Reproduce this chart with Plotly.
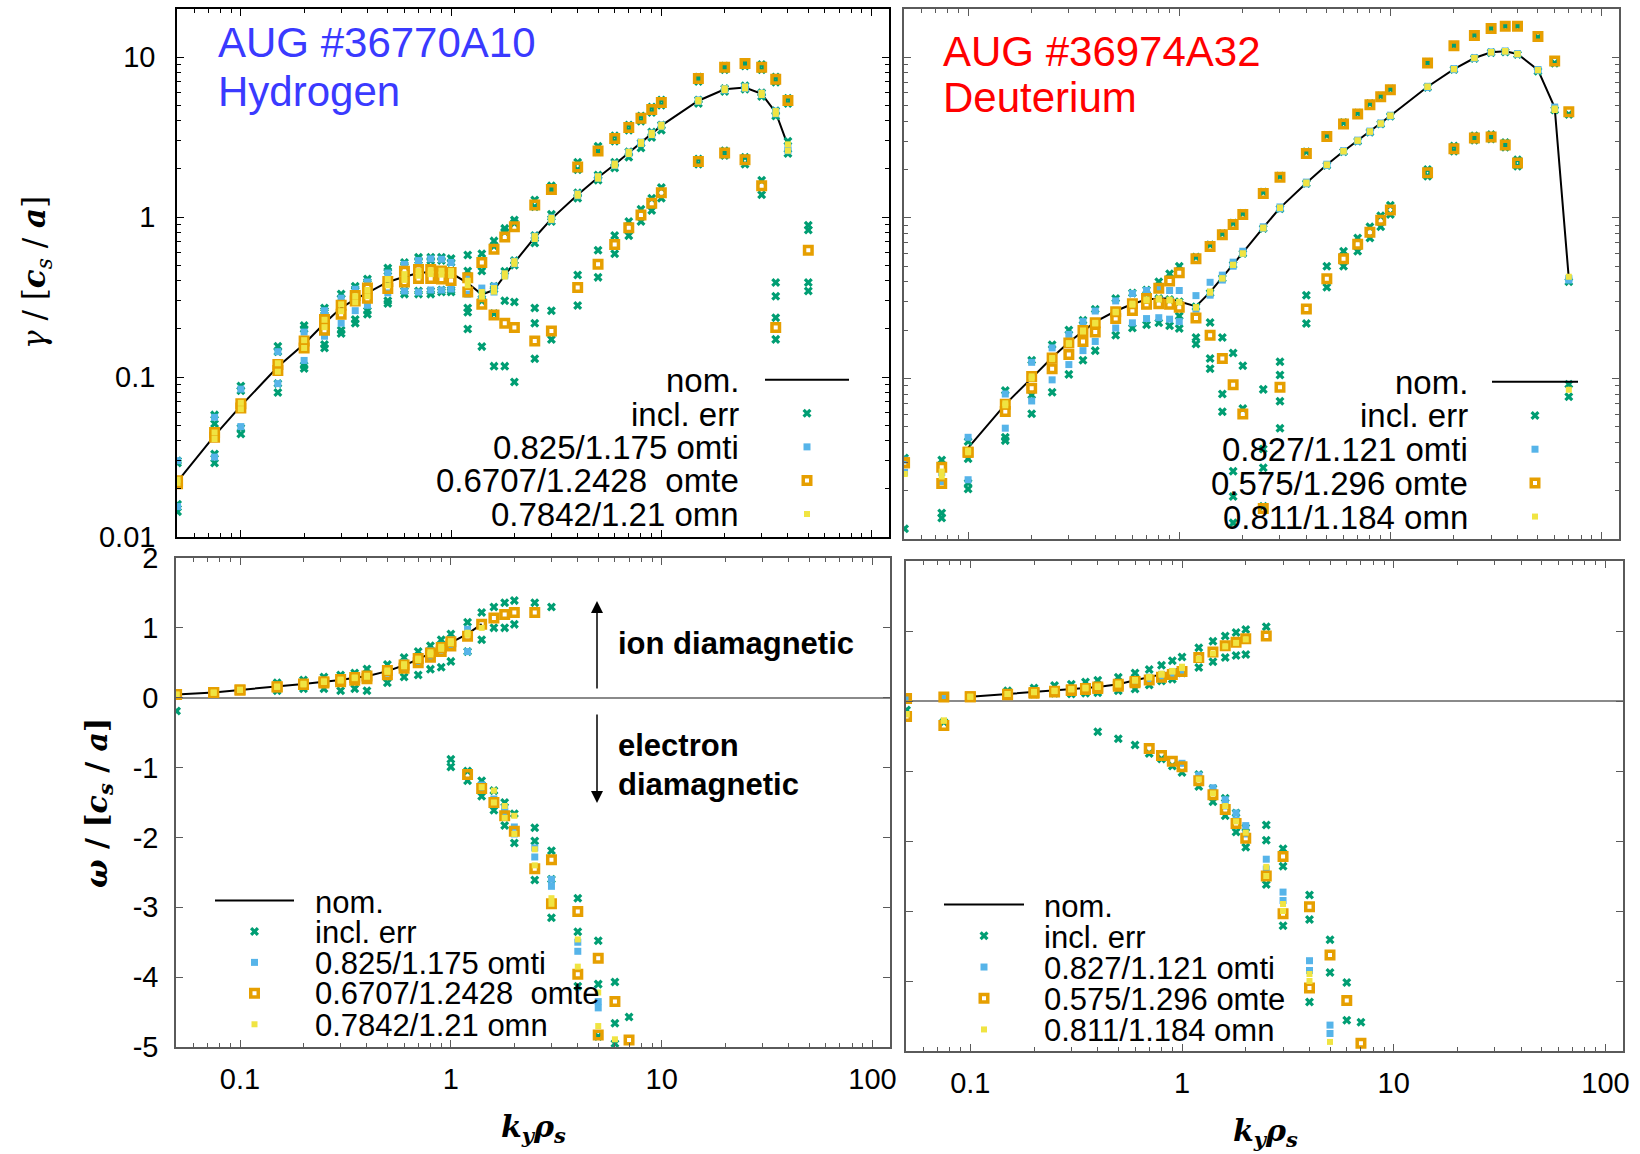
import math
import plotly.graph_objects as go

W, H = 1640, 1154

# ================= Hydrogen, AUG #36770A10 =================
k_H = [0.05, 0.075, 0.1, 0.15, 0.2, 0.25, 0.3, 0.35, 0.4, 0.5, 0.6, 0.7, 0.8, 0.9, 1.0,
       1.2, 1.4, 1.6, 1.8, 2.0, 2.5, 3.0, 4.0, 5.0, 6.0, 7.0, 8.0, 9.0, 10, 15, 20, 25, 30, 35, 40, 50]

gam_nom_H = [0.0223, 0.043, 0.066, 0.116, 0.161, 0.217, 0.271, 0.307, 0.336, 0.393, 0.424, 0.447, 0.453, 0.45, 0.447,
             0.387, 0.328, 0.351, 0.435, 0.52, 0.746, 0.975, 1.38, 1.77, 2.13, 2.52, 2.91, 3.31, 3.73, 5.34, 6.3, 6.46,
             5.89, 4.51, 2.8, None]
gam_omti_hi_H = [0.030, 0.056, 0.084, 0.144, 0.191, 0.26, 0.311, 0.354, 0.393, 0.447, 0.507, 0.535, 0.548, 0.545, 0.52,
                 0.42, 0.36, 0.37, 0.44, 0.53, 0.76, 0.99, 1.40, 1.79, 2.15, 2.55, 2.94, 3.35, 3.77, 5.40, 6.37, 6.55,
                 5.95, 4.6, 2.75, None]
gam_omti_lo_H = [0.0155, 0.0316, 0.049, 0.091, 0.127, 0.18, 0.217, 0.26, 0.281, 0.336, 0.345, 0.34, 0.35, 0.35, 0.355,
                 0.33, 0.31, 0.34, 0.43, 0.51, 0.735, 0.96, 1.36, 1.75, 2.1, 2.49, 2.88, 3.27, 3.68, 5.28, 6.22, 6.38,
                 5.82, 4.42, 2.6, None]
gam_omte_hi_H = [0.0225, 0.045, 0.068, 0.12, 0.168, 0.229, 0.281, 0.323, 0.36, 0.396, 0.458, 0.47, 0.47, 0.46, 0.45,
                 0.417, 0.52, 0.63, 0.75, 0.87, 1.19, 1.49, 2.06, 2.59, 3.1, 3.63, 4.15, 4.7, 5.21, 7.35, 8.66, 9.12,
                 8.66, 7.28, 5.35, 0.62]
gam_omte_lo_H = [0.0215, 0.042, 0.064, 0.11, 0.152, 0.196, 0.247, 0.299, 0.311, 0.358, 0.393, 0.413, 0.413, 0.41, 0.402,
                 0.34, 0.285, 0.244, 0.217, 0.204, 0.168, 0.194, 0.363, 0.507, 0.673, 0.857, 1.03, 1.22, 1.42, 2.23,
                 2.52, 2.28, 1.57, 0.204, None, None]
gam_omn_hi_H = [0.0228, 0.045, 0.069, 0.122, 0.17, 0.228, 0.285, 0.32, 0.35, 0.41, 0.44, 0.46, 0.465, 0.462, 0.46,
                0.40, 0.34, 0.36, 0.445, 0.53, 0.76, 0.99, 1.40, 1.80, 2.16, 2.56, 2.95, 3.36, 3.78, 5.4, 6.38, 6.55,
                5.98, 4.6, 2.85, None]
gam_omn_lo_H = [0.0218, 0.041, 0.063, 0.108, 0.152, 0.205, 0.258, 0.293, 0.32, 0.375, 0.405, 0.43, 0.44, 0.437, 0.434,
                0.375, 0.318, 0.342, 0.425, 0.51, 0.73, 0.96, 1.36, 1.74, 2.1, 2.48, 2.87, 3.26, 3.68, 5.28, 6.22, 6.38,
                5.8, 4.42, 2.6, None]
gam_err_H_1 = [0.030, 0.058, 0.088, 0.156, 0.21, 0.27, 0.33, 0.37, 0.41, 0.48, 0.52, 0.56, 0.56, 0.56, 0.55,
               0.58, 0.59, 0.71, 0.85, 0.96, 1.28, 1.57, 2.2, 2.77, 3.23, 3.77, 4.29, 4.87, 5.4, 7.5, 8.8, 9.26,
               9.0, 7.5, 5.54, 0.89]
gam_err_H_2 = [0.029, 0.051, 0.082, 0.144, 0.2, 0.26, 0.31, 0.354, 0.393, 0.458, 0.5, 0.535, 0.535, 0.535, 0.52,
               0.46, 0.46, 0.66, 0.81, 0.92, 1.16, 1.49, 1.98, 2.56, 2.98, 3.49, 3.97, 4.51, 5.0, 7.05, 8.35, 8.8,
               8.35, 6.98, 5.13, 0.83]
gam_err_H_3 = [None, None, None, None, None, None, None, None, None, None, None, None, None, None, None,
               None, 0.328, 0.37, 0.458, 0.535, 0.766, 1.04, 1.42, 1.83, 2.2, 2.56, 2.91, 3.4, 3.77, 5.4, 6.37, 6.63,
               5.98, 4.62, 2.98, 0.39]
gam_err_H_4 = [None, None, None, None, None, None, None, None, None, None, None, None, None, None, None,
               None, None, 0.354, None, 0.5, 0.69, 0.94, 1.31, 1.7, 2.03, 2.37, 2.7, 3.15, 3.49, 5.13, 6.1, 6.3,
               5.68, 4.29, 2.5, 0.345]
gam_err_H_5 = [0.016, 0.033, 0.048, 0.091, 0.118, 0.16, 0.196, 0.229, 0.26, 0.30, 0.345, 0.345, 0.345, 0.35, 0.35,
               0.27, 0.30, 0.25, 0.30, 0.295, 0.27, 0.26, 0.435, 0.62, 0.766, 0.94, 1.12, 1.31, 1.53, 2.31, 2.6, 2.37,
               1.7, 0.39, None, None]
gam_err_H_6 = [0.0144, 0.029, 0.044, 0.08, 0.113, 0.152, 0.187, 0.217, 0.247, 0.288, 0.33, 0.33, 0.33, 0.34, 0.34,
               0.2, 0.155, 0.117, 0.117, 0.093, 0.13, 0.172, 0.28, 0.42, 0.59, 0.766, 0.94, 1.1, 1.31, 2.14, 2.43, 2.14,
               1.38, 0.172, None, None]
gam_err_H_7 = [None, None, None, None, None, None, None, None, None, None, None, None, None, None, None,
               0.254, None, None, None, None, 0.217, None, None, None, None, None, None, None, None, None, None, None,
               None, 0.32, None, None]
gam_err_H_8 = [None, None, None, None, None, None, None, None, None, None, None, None, None, None, None,
               None, None, None, None, None, None, None, None, None, None, None, None, None, None, None, None, None,
               None, 0.235, None, None]

om_nom_H = [0.045, 0.073, 0.112, 0.157, 0.196, 0.23, 0.252, 0.286, 0.308, 0.381, 0.465, 0.549, 0.633, 0.717, 0.79,
            0.913, 1.053]
om_omti_hi_H = [0.045, 0.075, 0.115, 0.16, 0.2, 0.24, 0.27, 0.3, 0.33, 0.41, 0.5, 0.59, 0.67, 0.75, 0.83,
                0.98, -1.3, -1.52, -1.58, -1.95, -2.28, -2.7, -3.63, -4.44, None, None]
om_omti_lo_H = [0.045, 0.07, 0.105, 0.15, 0.185, 0.215, 0.235, 0.265, 0.285, 0.35, 0.43, 0.51, 0.59, 0.68, 0.75,
                0.66, -1.25, -1.45, -1.63, -1.85, -2.15, -2.6, -3.5, -4.35, None, None]
om_omte_hi_H = [0.045, 0.073, 0.112, 0.157, 0.196, 0.23, 0.26, 0.29, 0.31, 0.39, 0.47, 0.56, 0.64, 0.72, 0.80,
                -1.10, -1.30, -1.5, -1.69, -1.91, -2.45, -2.95, -3.96, -4.83, None, None]
om_omte_lo_H = [0.045, 0.073, 0.11, 0.155, 0.19, 0.21, 0.23, 0.25, 0.27, 0.33, 0.42, 0.5, 0.58, 0.66, 0.74,
                0.88, 1.05, 1.14, 1.19, 1.22, 1.22, -2.32, -3.06, -3.73, -4.35, -4.9]
om_omn_hi_H = [0.045, 0.075, 0.115, 0.16, 0.2, 0.235, 0.26, 0.29, 0.315, 0.39, 0.48, 0.56, 0.65, 0.73, 0.81,
               0.93, 1.0, -1.33, -1.55, -1.69, -2.17, -2.87, -3.46, -4.22, -4.89, None]
om_omn_lo_H = [0.045, 0.07, 0.11, 0.155, 0.19, 0.225, 0.245, 0.28, 0.3, 0.37, 0.45, 0.54, 0.62, 0.70, 0.78,
               0.90, -1.28, -1.5, -1.72, -1.95, -2.4, -2.95, -3.85, -4.7, None, None]
om_err_H_1 = [0.045, 0.075, 0.115, 0.213, 0.252, 0.297, 0.325, 0.353, 0.41, 0.476, 0.577, 0.66, 0.745, 0.83, 0.913,
              1.08, 1.22, 1.30, 1.36, 1.39, 1.36, 1.30]
om_err_H_2 = [-0.19, 0.07, 0.105, 0.1, 0.129, 0.13, 0.1, 0.13, 0.1, 0.213, 0.297, 0.325, 0.409, 0.437, 0.52,
              0.66, 0.83, 1.0, 1.0, 1.05]
om_err_H_3 = [None, None, None, None, None, None, None, None, None, None, None, None, None, None, -0.88,
              -1.05, -1.19, -1.33, -1.5, -1.66, -1.86, -2.19, -2.87, -3.48, -4.07, -4.57]
om_err_H_4 = [None, None, None, None, None, None, None, None, None, None, None, None, None, None, -0.99,
              -1.19, -1.41, -1.61, -1.83, -2.08, -2.61, -3.15, -4.13, -4.85, -4.66, None]
om_err_H_5 = [None, None, None, None, None, None, None, None, None, None, None, None, None, None, None,
              None, None, None, None, None, -2.05, -2.6, -3.35, -4.1, -4.95, None]

# ================= Deuterium, AUG #36974A32 =================
k_D = [0.05, 0.075, 0.1, 0.15, 0.2, 0.25, 0.3, 0.35, 0.4, 0.5, 0.6, 0.7, 0.8, 0.9, 1.0,
       1.2, 1.4, 1.6, 1.8, 2.0, 2.5, 3.0, 4.0, 5.0, 6.0, 7.0, 8.0, 9.0, 10, 15, 20, 25, 30, 35, 40, 50, 60, 70]

gam_nom_D = [None, None, 0.0369, 0.069, 0.1005, 0.135, 0.168, 0.196, 0.225, 0.263, 0.291, 0.31, 0.315, 0.315, 0.303,
             0.281, 0.345, 0.424, 0.513, 0.607, 0.87, 1.155, 1.65, 2.14, 2.6, 3.03, 3.45, 3.87, 4.33, 6.56, 8.44, 9.9,
             10.75, 10.9, 10.5, 8.35, 4.87, 0.418]
gam_omti_hi_D = [0.031, 0.0259, 0.043, 0.08, 0.126, 0.155, 0.188, 0.226, 0.263, 0.304, 0.338, 0.353, 0.36, 0.353, 0.353,
                 0.328, 0.397, 0.44, 0.53, 0.62, 0.88, 1.17, 1.67, 2.16, 2.62, 3.05, 3.47, 3.9, 4.36, 6.6, 8.5, 9.95,
                 10.8, 10.95, 10.55, 8.4, 4.9, 0.42]
gam_omti_lo_D = [0.026, 0.0228, 0.0234, 0.049, 0.0724, 0.098, 0.122, 0.149, 0.17, 0.206, 0.222, 0.236, 0.239, 0.234,
                 0.226, 0.27, 0.33, 0.41, 0.50, 0.60, 0.86, 1.14, 1.63, 2.12, 2.58, 3.0, 3.42, 3.84, 4.3, 6.5, 8.38,
                 9.85, 10.7, 10.85, 10.45, 8.3, 4.8, 0.41]
gam_omte_hi_D = [0.0299, 0.028, 0.0347, 0.069, 0.103, 0.134, 0.166, 0.199, 0.222, 0.26, 0.292, 0.315, 0.364, 0.404,
                 0.455, 0.557, 0.663, 0.785, 0.908, 1.05, 1.42, 1.79, 2.52, 3.21, 3.85, 4.44, 5.07, 5.68, 6.29, 9.21,
                 11.8, 13.7, 15.1, 15.6, 15.6, 13.5, 9.5, 4.58]
gam_omte_lo_D = [0.0299, 0.0222, 0.0347, 0.0622, 0.087, 0.115, 0.141, 0.17, 0.195, 0.236, 0.265, 0.29, 0.292, 0.29,
                 0.278, 0.238, 0.186, 0.133, 0.0915, 0.06, 0.0155, 0.088, 0.271, 0.418, 0.557, 0.684, 0.815, 0.965,
                 1.12, 1.91, 2.7, 3.15, 3.19, 2.84, 2.2, None, None, None]
gam_omn_hi_D = [0.0254, 0.0263, 0.0355, 0.07, 0.103, 0.134, 0.166, 0.199, 0.222, 0.26, 0.292, 0.31, 0.315, 0.306,
                0.30, 0.276, 0.348, 0.42, 0.51, 0.60, 0.87, 1.16, 1.66, 2.15, 2.61, 3.04, 3.46, 3.88, 4.34, 6.58, 8.46,
                9.92, 10.8, 10.95, 10.5, 8.35, 4.8, 0.43]
gam_omn_lo_D = [0.0254, 0.0245, 0.0347, 0.068, 0.1, 0.132, 0.164, 0.196, 0.22, 0.258, 0.288, 0.306, 0.31, 0.31,
                0.298, 0.278, 0.342, 0.42, 0.51, 0.60, 0.86, 1.15, 1.64, 2.13, 2.59, 3.02, 3.44, 3.86, 4.32, 6.54, 8.42,
                9.88, 10.7, 10.85, 10.45, 8.3, 4.7, 0.085]
gam_err_D_1 = [0.032, 0.031, 0.0405, 0.084, 0.13, 0.162, 0.2, 0.23, 0.27, 0.315, 0.34, 0.355, 0.40, 0.449, 0.5,
               0.57, 0.68, 0.80, 0.93, 1.07, 1.45, 1.82, 2.58, 3.27, 3.92, 4.5, 5.15, 5.75, 6.35, 9.3, 11.9, 13.8,
               15.2, 15.7, 15.7, 13.3, 9.2, 4.4]
gam_err_D_2 = [None, None, 0.0316, 0.069, 0.101, 0.134, 0.165, 0.196, 0.224, 0.262, 0.29, 0.31, 0.315, 0.31, 0.30,
               0.28, 0.34, 0.42, 0.51, 0.60, 0.86, 1.14, 1.64, 2.12, 2.58, 3.0, 3.42, 3.84, 4.3, 6.5, 8.4, 9.85,
               10.7, 10.8, 10.4, 8.2, 4.7, 0.092]
gam_err_D_3 = [0.0116, 0.0145, 0.0223, 0.043, 0.079, 0.082, 0.106, 0.13, 0.149, 0.186, 0.206, 0.216, 0.222, 0.213,
               0.245, 0.18, 0.223, 0.18, 0.144, 0.12, 0.0855, 0.127, 0.33, 0.5, 0.62, 0.75, 0.88, 1.03, 1.2, 2.0,
               2.8, 3.25, 3.3, 2.95, 2.3, None, None, 0.077]
gam_err_D_4 = [None, 0.0135, 0.0205, 0.041, 0.0602, None, None, None, None, None, None, None, None, None, 0.205,
               0.164, 0.133, 0.08, 0.0264, 0.065, 0.0364, 0.105, 0.22, 0.37, 0.5, 0.62, 0.75, 0.88, 1.05, 1.82,
               2.6, 3.05, 3.1, 2.75, 2.1, None, None, 0.4]
gam_err_D_5 = [None, None, None, None, None, None, None, None, None, None, None, None, None, None, None,
               None, 0.115, 0.062, 0.0184, None, 0.0278, 0.072, None, None, None, None, None, None, None, None,
               None, None, None, None, None, None, None, None]
gam_err_D_6 = [None, None, None, None, None, None, None, None, None, None, None, None, None, None, None,
               None, None, None, 0.0126, None, 0.016, 0.049, None, None, None, None, None, None, None, None,
               None, None, None, None, None, None, None, None]

om_nom_D = [None, None, 0.061, 0.10, 0.128, 0.145, 0.168, 0.184, 0.201, 0.24, 0.296, 0.34, 0.38, 0.425, 0.48]
om_omti_hi_D = [0.03, 0.055, 0.065, 0.1, 0.13, 0.15, 0.175, 0.2, 0.22, 0.26, 0.3, 0.34, 0.38, 0.42, -0.89,
                -1.06, -1.24, -1.41, -1.6, -1.78, -2.26, -2.73, -3.71, -4.63, None, None]
om_omti_lo_D = [0.03, 0.055, 0.058, 0.095, 0.12, 0.135, 0.15, 0.165, 0.175, 0.21, 0.257, 0.29, 0.32, 0.36, 0.42,
                -1.1, -1.3, -1.5, -1.7, -1.9, -2.4, -2.85, -3.85, -4.75, None, None]
om_omte_hi_D = [0.034, 0.056, 0.06, 0.095, 0.12, 0.14, 0.16, 0.18, 0.2, 0.24, 0.28, -0.68, -0.78, -0.86, -0.94,
                -1.14, -1.34, -1.55, -1.75, -1.96, -2.50, -3.04, -4.1, None, None, None]
om_omte_lo_D = [-0.22, -0.35, 0.06, 0.09, 0.11, 0.13, 0.15, 0.165, 0.18, 0.21, 0.26, 0.30, 0.34, 0.38, 0.42,
                0.62, 0.70, 0.79, 0.84, 0.89, 0.93, -2.22, -2.94, -3.63, -4.28, -4.89]
om_omn_hi_D = [-0.19, -0.28, 0.062, 0.1, 0.13, 0.148, 0.17, 0.19, 0.21, 0.25, 0.3, 0.345, 0.39, 0.43, 0.49,
               0.6, 0.68, 0.78, 0.83, 0.88, -2.37, -2.9, -3.9, -4.87, None, None]
om_omn_lo_D = [-0.19, -0.28, 0.06, 0.1, 0.125, 0.142, 0.165, 0.18, 0.2, 0.235, 0.29, 0.335, 0.375, 0.42, 0.47,
               -1.12, -1.32, -1.5, -1.72, -1.88, -2.5, -3.0, -4.0, None, None, None]
om_err_D_1 = [-0.13, -0.3, 0.065, 0.145, 0.184, 0.22, 0.24, 0.27, 0.296, 0.34, 0.40, 0.45, 0.51, 0.575, 0.63,
              0.76, 0.855, 0.93, 0.98, 1.02, 1.06]
om_err_D_2 = [None, None, 0.055, 0.085, 0.1, 0.11, 0.1, 0.11, 0.117, 0.145, 0.17, 0.23, 0.285, 0.31, 0.40,
              0.48, 0.56, 0.62, 0.65, 0.665]
om_err_D_3 = [None, None, None, None, None, None, None, None, -0.44, -0.54, -0.63, -0.75, -0.83, -0.93, -1.02,
              -1.05, -1.25, -1.39, -1.6, -1.81, -1.77, -2.11, -2.77, -3.41, -4.02, -4.59]
om_err_D_4 = [None, None, None, None, None, None, None, None, None, None, None, None, None, None, None,
              -1.22, -1.44, -1.64, -1.87, -2.09, -2.62, -3.21, -4.3, -3.88, -4.56, None]
om_err_D_5 = [None, None, None, None, None, None, None, None, None, None, None, None, None, None, None,
              None, None, None, None, None, -1.99, -2.36, -3.12, None, None, None]

# legend / annotation texts
leg_H = ["nom.", "incl. err", "0.825/1.175 omti", "0.6707/1.2428  omte", "0.7842/1.21 omn"]
leg_D = ["nom.", "incl. err", "0.827/1.121 omti", "0.575/1.296 omte", "0.811/1.184 omn"]

# ================= styling =================
C_ERR, C_TI, C_TE, C_N = "#009e73", "#56b4e9", "#e69f00", "#f0e442"
FONT = "Liberation Sans, Arial, sans-serif"
MATH = "DejaVu Serif, serif"


def collect(k, *arrays):
    xs, ys = [], []
    for arr in arrays:
        for kk, v in zip(k, arr):
            if v is not None:
                xs.append(kk)
                ys.append(v)
    return xs, ys


fig = go.Figure()


def add_panel(xa, ya, leg, k, nom, errs, ti, te, n):
    fig.add_trace(go.Scatter(x=k[:len(nom)], y=nom, mode="lines", line=dict(color="black", width=2),
                             name="", legend=leg, xaxis=xa, yaxis=ya, showlegend=True, hoverinfo="x+y"))
    specs = [
        (errs, dict(symbol="x", size=8, color=C_ERR, line=dict(width=0))),
        (ti, dict(symbol="square", size=7, color=C_TI, line=dict(width=0))),
        (te, dict(symbol="square-open", size=7.5, color=C_TE, line=dict(width=3.5, color=C_TE))),
        (n, dict(symbol="square", size=6, color=C_N, line=dict(width=0))),
    ]
    for arrays, mk in specs:
        x, y = collect(k, *arrays)
        fig.add_trace(go.Scatter(x=x, y=y, mode="markers", marker=mk, name="", legend=leg,
                                 xaxis=xa, yaxis=ya, showlegend=True, hoverinfo="x+y"))


add_panel("x", "y", "legend", k_H, gam_nom_H,
          [gam_err_H_1, gam_err_H_2, gam_err_H_3, gam_err_H_4, gam_err_H_5, gam_err_H_6, gam_err_H_7, gam_err_H_8],
          [gam_omti_lo_H, gam_omti_hi_H], [gam_omte_lo_H, gam_omte_hi_H], [gam_omn_lo_H, gam_omn_hi_H])
add_panel("x2", "y2", "legend2", k_D, gam_nom_D,
          [gam_err_D_1, gam_err_D_2, gam_err_D_3, gam_err_D_4, gam_err_D_5, gam_err_D_6],
          [gam_omti_lo_D, gam_omti_hi_D], [gam_omte_lo_D, gam_omte_hi_D], [gam_omn_lo_D, gam_omn_hi_D])
add_panel("x3", "y3", "legend3", k_H, om_nom_H,
          [om_err_H_1, om_err_H_2, om_err_H_3, om_err_H_4, om_err_H_5],
          [om_omti_lo_H, om_omti_hi_H], [om_omte_lo_H, om_omte_hi_H], [om_omn_lo_H, om_omn_hi_H])
add_panel("x4", "y4", "legend4", k_D, om_nom_D,
          [om_err_D_1, om_err_D_2, om_err_D_3, om_err_D_4, om_err_D_5],
          [om_omti_lo_D, om_omti_hi_D], [om_omte_lo_D, om_omte_hi_D], [om_omn_lo_D, om_omn_hi_D])


def xd(l, r):
    return [l / W, r / W]


def yd(t, b):
    return [1 - b / H, 1 - t / H]


XR = [math.log10(0.0497), math.log10(121)]
minor_x = [m * 10 ** e for e in (-2, -1, 0, 1, 2) for m in range(2, 10)]
minor_y = [m * 10 ** e for e in (-2, -1, 0, 1) for m in range(2, 10)]


def xaxis(domain, anchor, labels, lc):
    return dict(type="log", domain=domain, range=XR, anchor=anchor, showline=True, linecolor=lc, linewidth=1.5,
                mirror="allticks", ticks="inside", ticklen=7, tickwidth=1, tickcolor=lc, automargin=False,
                tickvals=[0.1, 1, 10, 100], ticktext=["0.1", "1", "10", "100"], showticklabels=labels,
                showgrid=False, zeroline=False, ticklabelstandoff=5,
                minor=dict(tickvals=minor_x, ticks="inside", ticklen=4, tickcolor=lc, showgrid=False),
                tickfont=dict(size=29, color="black", family=FONT))


def ylog(domain, anchor, labels, lc):
    return dict(type="log", domain=domain, range=[-2, math.log10(20)], anchor=anchor, showline=True, linecolor=lc,
                linewidth=1.5, mirror="allticks", ticks="inside", ticklen=7, tickwidth=1, tickcolor=lc,
                automargin=False,
                tickvals=[0.01, 0.1, 1, 10], ticktext=["0.01", "0.1", "1", "10"], showticklabels=labels,
                showgrid=False, zeroline=False, ticklabelstandoff=14,
                minor=dict(tickvals=minor_y, ticks="inside", ticklen=4, tickcolor=lc, showgrid=False),
                tickfont=dict(size=29, color="black", family=FONT))


def ylin(domain, anchor, labels, lc):
    return dict(type="linear", domain=domain, range=[-5, 2], anchor=anchor, showline=True, linecolor=lc,
                linewidth=1.5, mirror="allticks", ticks="inside", ticklen=7, tickwidth=1, tickcolor=lc,
                automargin=False,
                tickvals=[-5, -4, -3, -2, -1, 0, 1, 2], ticktext=["-5", "-4", "-3", "-2", "-1", "0", "1", "2"],
                showticklabels=labels, showgrid=False, zeroline=True, zerolinecolor="#8a8a8a", zerolinewidth=1.5,
                ticklabelstandoff=10, tickfont=dict(size=29, color="black", family=FONT))


GRAY = "#5a5a5a"


def legend_cfg(left, top, fs, iw):
    return dict(x=left / W, y=1 - top / H, xanchor="left", yanchor="top", bgcolor="rgba(0,0,0,0)",
                borderwidth=0, font=dict(size=fs, family=FONT), itemwidth=iw, tracegroupgap=0,
                traceorder="normal", itemsizing="trace")


annotations = []


def txt(text, x, y, xanchor="left", yanchor="middle", size=31, color="black", family=FONT, **kw):
    annotations.append(dict(text=text, x=x / W, y=1 - y / H, xref="paper", yref="paper", xanchor=xanchor,
                            yanchor=yanchor, showarrow=False, font=dict(size=size, color=color, family=family), **kw))


# panel titles
txt("AUG #36770A10", 216, 42, size=42, color="#3a3aff")
txt("Hydrogen", 216, 91, size=42, color="#3a3aff")
txt("AUG #36974A32", 941, 52, size=42, color="#ff0000")
txt("Deuterium", 941, 98, size=42, color="#ff0000")

# legend texts
rows_TL = [380, 414, 447, 480, 514]
rows_TR = [382, 415, 449, 483, 517]
rows_BL = [902, 933, 964, 994, 1025]
rows_BR = [906, 937, 968, 999, 1030]
for t, y in zip(leg_H, rows_TL):
    txt(t, 741, y, xanchor="right", size=33)
for t, y in zip(leg_D, rows_TR):
    txt(t, 1470, y, xanchor="right", size=33)
for t, y in zip(leg_H, rows_BL):
    txt(t, 313, y, xanchor="left", size=31)
for t, y in zip(leg_D, rows_BR):
    txt(t, 1042, y, xanchor="left", size=31)

# diamagnetic direction notes
txt("<b>ion diamagnetic</b>", 616, 643, size=31)
txt("<b>electron</b>", 616, 745, size=31)
txt("<b>diamagnetic</b>", 616, 784, size=31)
annotations.append(dict(x=597 / W, y=1 - 601 / H, xref="paper", yref="paper", ax=0, ay=89, text="",
                        showarrow=True, arrowhead=2, arrowsize=1.6, arrowwidth=1.5, arrowcolor="black"))
annotations.append(dict(x=597 / W, y=1 - 803 / H, xref="paper", yref="paper", ax=0, ay=-90, text="",
                        showarrow=True, arrowhead=2, arrowsize=1.6, arrowwidth=1.5, arrowcolor="black"))

# axis titles
txt("<i>γ</i> / [<b><i>c</i></b><sub><i>s</i></sub> / <b><i>a</i></b>]", 36, 273, xanchor="center",
    size=31, family=MATH, textangle=-90)
txt("<b><i>ω</i> / [<i>c</i><sub><i>s</i></sub> / <i>a</i>]</b>", 98, 803, xanchor="center",
    size=30, family=MATH, textangle=-90)
txt("<b><i>k</i><sub><i>y</i></sub><i>ρ</i><sub><i>s</i></sub></b>", 533, 1128, xanchor="center", size=30,
    family=MATH)
txt("<b><i>k</i><sub><i>y</i></sub><i>ρ</i><sub><i>s</i></sub></b>", 1265, 1132, xanchor="center", size=30,
    family=MATH)

fig.update_layout(
    width=W, height=H, autosize=False, margin=dict(l=0, r=0, t=0, b=0, autoexpand=False),
    paper_bgcolor="white", plot_bgcolor="white", font=dict(family=FONT, color="black"),
    showlegend=True, hovermode="closest",
    xaxis=xaxis(xd(177, 889), "y", False, "black"),
    yaxis=ylog(yd(9, 537), "x", True, "black"),
    xaxis2=xaxis(xd(904, 1619), "y2", False, GRAY),
    yaxis2=ylog(yd(9, 539), "x2", False, GRAY),
    xaxis3=xaxis(xd(176, 890), "y3", True, GRAY),
    yaxis3=ylin(yd(558, 1047), "x3", True, GRAY),
    xaxis4=xaxis(xd(906, 1623), "y4", True, GRAY),
    yaxis4=ylin(yd(561, 1051), "x4", False, GRAY),
    legend=legend_cfg(760, 358, 23.5, 84),
    legend2=legend_cfg(1487, 360, 23.6, 86),
    legend3=legend_cfg(210, 880, 21.5, 79),
    legend4=legend_cfg(939, 884, 21.7, 80),
    annotations=annotations,
)

fig.write_html("out.html")
